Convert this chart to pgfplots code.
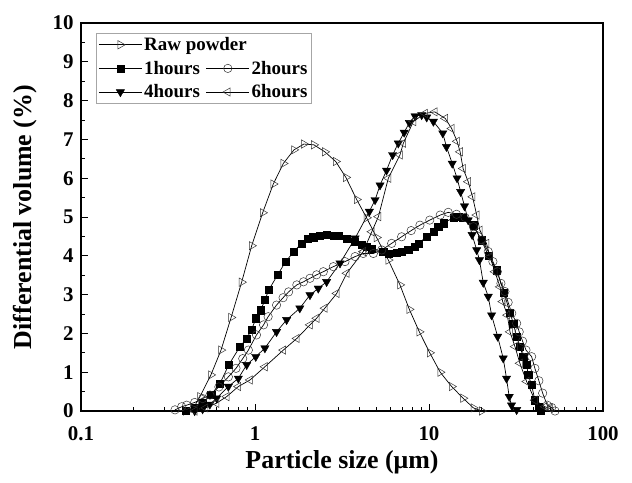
\documentclass[border=0pt]{standalone}
\usepackage{fontspec}
\setmainfont{Liberation Serif}
\usepackage{pgfplots}
\pgfplotsset{compat=1.18}
\begin{document}
\begin{tikzpicture}
\useasboundingbox (-81bp,-72bp) rectangle (551bp,411bp);
\begin{axis}[
  at={(0,0)}, anchor=south west,
  scale only axis, width=522bp, height=388bp,
  xmode=log, log basis x=10,
  xmin=0.1, xmax=100, ymin=0, ymax=10,
  xtick={0.1,1,10,100}, xticklabels={0.1,1,10,100},
  minor xtick={0.2,0.3,0.4,0.5,0.6,0.7,0.8,0.9,2,3,4,5,6,7,8,9,20,30,40,50,60,70,80,90},
  ytick={0,1,2,3,4,5,6,7,8,9,10},
  minor ytick={0.5,1.5,2.5,3.5,4.5,5.5,6.5,7.5,8.5,9.5},
  tick pos=left, tick align=inside,
  major tick length=7bp, minor tick length=4bp,
  axis line style={line width=1.4bp},
  every tick/.style={line width=0.9bp, black},
  /pgf/number format/assume math mode=true,
  ticklabel style={font=\bfseries\fontsize{21}{25}\selectfont},
  xticklabel style={yshift=-12bp},
  yticklabel style={xshift=-4bp},
  xlabel={Particle size (μm)},
  ylabel={Differential volume (\%)},
  label style={font=\bfseries\fontsize{26}{30}\selectfont},
  xlabel style={at={(axis description cs:0.5,-0.131)}, anchor=center},
  ylabel style={at={(axis description cs:-0.107,0.5)}, anchor=center},
  legend columns=2,
  legend cell align=left,
  legend style={at={(axis description cs:0.029,0.974)}, anchor=north west,
    draw=gray!70, line width=0.8bp, font=\bfseries\fontsize{19}{21}\selectfont,
    inner sep=2bp, /tikz/row sep=5bp, /tikz/every even column/.append style={column sep=4bp}},
  legend image code/.code={\draw[mark repeat=2,mark phase=2] plot coordinates {(0bp,0bp) (21.5bp,0bp) (43bp,0bp)};},
  every axis plot/.append style={line width=0.7bp, black},
]
\addplot[mark=triangle, mark size=4.8bp, mark options={rotate=-90, fill=white, draw=black!80, line width=0.5bp}] coordinates {
(0.40,0) (0.442,0.07) (0.483,0.37) (0.558,0.93) (0.638,1.57) (0.729,2.41) (0.838,3.32) (0.957,4.26) (1.107,5.11) (1.274,5.85) (1.455,6.38) (1.675,6.73) (1.91,6.88) (2.18,6.86) (2.52,6.68) (2.91,6.43) (3.33,6.02) (3.84,5.45) (4.38,4.98) (5.00,4.47) (5.84,3.89) (6.81,3.25) (7.71,2.62) (8.80,2.04) (10.1,1.50) (11.6,1.00) (13.5,0.63) (15.7,0.33) (18.0,0.08) (20.1,0.0)
};
\addlegendentry{\makebox[0pt][l]{Raw powder}}
\addlegendimage{empty legend}
\addlegendentry{}
\addplot[mark=square*, mark size=3.6bp, mark options={fill=black, draw=black, line width=0.4bp}] coordinates {
(0.40,0) (0.45,0.08) (0.50,0.2) (0.56,0.42) (0.629,0.71) (0.709,1.20) (0.82,1.66) (0.896,1.87) (0.957,2.10) (1.013,2.39) (1.078,2.60) (1.14,2.86) (1.20,3.12) (1.35,3.51) (1.50,3.85) (1.675,4.11) (1.85,4.32) (2.0,4.45) (2.16,4.48) (2.36,4.51) (2.58,4.54) (2.82,4.52) (3.01,4.51) (3.37,4.45) (3.76,4.36) (4.10,4.28) (4.38,4.23) (4.69,4.19) (5.46,4.11) (5.84,4.06) (6.52,4.08) (6.96,4.11) (7.6,4.15) (8.31,4.23) (8.69,4.32) (9.70,4.49) (10.6,4.62) (11.3,4.75) (12.1,4.84) (13.8,4.98) (14.7,5.01) (15.7,4.99) (18.0,4.79) (20.0,4.40) (22.0,4.0) (24.5,3.63) (27.0,3.05) (29.2,2.53) (30.5,2.26) (31.9,1.92) (33.3,1.66) (34.8,1.40) (36.4,1.19) (37.2,0.93) (38.9,0.67) (40.6,0.28) (42.5,0.11) (44,0.0)
};
\addlegendentry{1hours}
\addplot[mark=o, mark size=4.2bp, mark options={fill=white, draw=black!80, line width=0.5bp}] coordinates {
(0.347,0.03) (0.379,0.11) (0.405,0.15) (0.45,0.22) (0.50,0.32) (0.551,0.41) (0.62,0.62) (0.703,0.88) (0.778,1.10) (0.85,1.35) (0.916,1.57) (1.02,1.96) (1.12,2.22) (1.19,2.43) (1.33,2.73) (1.45,2.92) (1.56,3.07) (1.74,3.25) (1.90,3.33) (2.07,3.42) (2.26,3.51) (2.47,3.59) (2.82,3.72) (3.29,3.85) (3.76,3.98) (4.19,4.06) (4.79,4.06) (5.35,4.15) (6.10,4.32) (6.96,4.49) (7.9,4.65) (8.87,4.79) (10.1,4.92) (11.6,5.05) (12.9,5.12) (14.4,5.07) (16.1,4.99) (18.0,4.75) (20.1,4.41) (21.9,4.11) (23.3,3.85) (24.7,3.59) (25.9,3.29) (27.3,3.08) (28.5,2.80) (29.9,2.52) (31.9,2.26) (33.0,2.04) (34.5,1.80) (36.1,1.57) (38.9,1.40) (40.6,1.10) (42.8,0.78) (45.0,0.46) (47.8,0.15) (50.7,0.09) (53,0.0)
};
\addlegendentry{2hours}
\addplot[mark=triangle*, mark size=4.8bp, mark options={rotate=180, fill=black, draw=black, line width=0.4bp}] coordinates {
(0.45,0.0) (0.50,0.05) (0.55,0.17) (0.602,0.33) (0.703,0.63) (0.802,0.84) (0.896,1.19) (1.01,1.40) (1.14,1.62) (1.33,2.04) (1.52,2.35) (1.81,2.65) (2.07,2.99) (2.31,3.16) (2.58,3.33) (3.08,3.81) (3.76,4.45) (4.54,5.14) (4.90,5.44) (5.23,5.82) (5.7,6.2) (6.18,6.60) (6.66,6.90) (7.2,7.18) (7.71,7.43) (8.31,7.60) (9.08,7.63) (9.70,7.57) (10.6,7.46) (12.0,7.16) (12.6,6.81) (13.6,6.38) (14.5,6.00) (15.2,5.65) (16.0,5.28) (16.8,4.92) (17.7,4.54) (18.8,4.15) (19.5,3.89) (20.5,3.31) (21.9,2.95) (22.9,2.47) (24.8,1.92) (26.7,1.36) (27.9,0.84) (28.9,0.37) (29.8,0.15) (31.9,0.03)
};
\addlegendentry{4hours}
\addplot[mark=triangle, mark size=4.8bp, mark options={rotate=90, fill=white, draw=black!80, line width=0.5bp}] coordinates {
(0.45,0.0) (0.52,0.08) (0.60,0.2) (0.687,0.37) (0.802,0.63) (0.936,0.80) (1.14,1.14) (1.455,1.57) (1.74,1.87) (2.07,2.22) (2.26,2.39) (2.52,2.65) (2.95,3.03) (3.37,3.55) (4.19,4.11) (4.69,4.62) (5.12,5.01) (5.84,6.00) (6.81,6.60) (7.12,6.90) (8.13,7.46) (9.48,7.67) (10.8,7.71) (12.4,7.54) (13.5,7.28) (14.5,6.95) (15.1,6.68) (15.7,6.25) (16.8,5.91) (17.8,5.52) (18.8,5.05) (19.6,4.66) (21.4,4.32) (22.4,3.98) (23.9,3.59) (25.6,3.20) (26.5,2.82) (28.2,2.47) (29.2,2.04) (31.2,1.66) (33.3,1.23) (36.4,0.76) (40.6,0.28) (46.4,0.11) (49.5,0.07)
};
\addlegendentry{6hours}
\end{axis}
\end{tikzpicture}
\end{document}
